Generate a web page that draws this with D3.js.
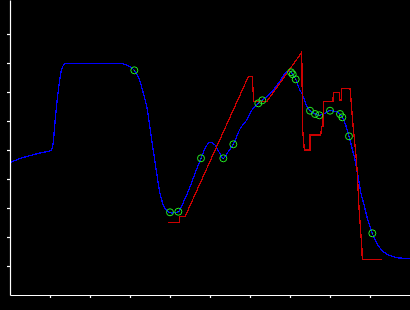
<!DOCTYPE html>
<html>
<head>
<meta charset="utf-8">
<script src="https://cdn.jsdelivr.net/npm/d3@7"></script>
<style>
  body { margin: 0; background: #000; }
  svg { display: block; }
</style>
</head>
<body>
<div id="chart"></div>
<script>
const width = 410;
const height = 310;

// tick positions (no labels in the picture)
const xTicks = [1, 2, 3, 4, 5, 6, 7, 8, 9];
const yTicks = [1, 2, 3, 4, 5, 6, 7, 8, 9];

// blue smooth curve
const blueX = [0, 0.125, 0.25, 0.375, 0.5, 0.7, 0.875, 1.0, 1.05, 1.088, 1.125, 1.163, 1.2, 1.238, 1.275, 1.313, 1.375, 1.425,
  2.675, 2.875, 3.0, 3.108, 3.233, 3.325, 3.418, 3.543, 3.668, 3.75, 3.833, 3.958, 4.05, 4.208, 4.35, 4.5, 4.65, 4.775,
  4.875, 5.0, 5.125, 5.225, 5.333, 5.45, 5.583, 5.75, 5.918, 6.05, 6.208, 6.308, 6.583, 6.75, 6.918, 7.0, 7.068, 7.143,
  7.225, 7.333, 7.418, 7.5, 7.625, 7.733, 7.833, 8.0, 8.168, 8.25, 8.308, 8.4, 8.475, 8.55, 8.625, 8.708, 8.793, 8.833,
  8.925, 9.058, 9.168, 9.333, 9.583, 9.833, 10.0];
const blueY = [4.552, 4.638, 4.707, 4.759, 4.803, 4.879, 4.931, 4.966, 5.034, 5.345, 5.966, 6.517, 6.966, 7.379, 7.690, 7.862, 7.983, 7.993,
  7.993, 7.955, 7.872, 7.748, 7.448, 7.0, 6.493, 5.345, 4.197, 3.507, 3.103, 2.872, 2.828, 2.872, 3.241, 3.734, 4.276, 4.714,
  5.059, 5.266, 5.172, 4.931, 4.714, 4.931, 5.197, 5.724, 6.034, 6.379, 6.610, 6.714, 7.069, 7.379, 7.700, 7.724, 7.610, 7.438,
  7.138, 6.838, 6.517, 6.355, 6.241, 6.197, 6.241, 6.355, 6.321, 6.241, 6.128, 5.828, 5.472, 5.069, 4.655, 4.034, 3.390, 3.207,
  2.690, 2.128, 1.783, 1.493, 1.321, 1.266, 1.266];

// red line
const redX = [3.95, 4.233, 4.233, 4.375, 5.958, 6.058, 6.093, 6.418, 7.293, 7.318, 7.358, 7.5, 7.5, 7.768, 7.793, 7.825, 7.833,
  8.075, 8.083, 8.233, 8.25, 8.283, 8.293, 8.5, 8.525, 8.575, 8.638, 8.688, 8.713, 8.75, 8.793, 8.808, 9.293];
const redY = [2.507, 2.507, 2.7, 2.7, 7.528, 7.528, 6.666, 6.666, 8.369, 5.690, 5.0, 5.0, 5.517, 5.517, 5.803, 5.803, 6.666,
  6.666, 6.976, 6.976, 6.724, 6.724, 7.128, 7.128, 6.724, 5.862, 5.0, 4.138, 3.276, 2.517, 1.724, 1.231, 1.231];

// green markers
const dotX = [3.108, 4.0, 4.208, 4.775, 5.333, 5.583, 6.208, 6.308, 7.025, 7.068, 7.143, 7.5, 7.625, 7.733, 8.0, 8.25, 8.308, 8.475, 9.058];
const dotY = [7.748, 2.852, 2.872, 4.714, 4.714, 5.197, 6.610, 6.714, 7.679, 7.610, 7.438, 6.355, 6.241, 6.197, 6.355, 6.241, 6.128, 5.472, 2.128];

const margin = { left: 10, bottom: 15 };
const plotBottom = height - margin.bottom;

const x = d3.scaleLinear().domain([0, 10]).range([margin.left, width]);
const y = d3.scaleLinear().domain([0, plotBottom / 29]).range([plotBottom, 0]);

const svg = d3.select("#chart")
  .append("svg")
  .attr("width", width)
  .attr("height", height)
  .style("background", "#000");

const line = d3.line()
  .x(d => x(d[0]))
  .y(d => y(d[1]));

svg.append("path")
  .datum(d3.zip(blueX, blueY))
  .attr("d", line.curve(d3.curveMonotoneX))
  .attr("fill", "none")
  .attr("stroke", "#0000ff")
  .attr("stroke-width", 1.3)
  .attr("shape-rendering", "crispEdges");

svg.append("path")
  .datum(d3.zip(redX, redY))
  .attr("d", line.curve(d3.curveLinear))
  .attr("fill", "none")
  .attr("stroke", "#cc0000")
  .attr("stroke-width", 1.3)
  .attr("shape-rendering", "crispEdges");

const dots = svg.append("g");
dots.selectAll("circle.ring")
  .data(d3.zip(dotX, dotY))
  .enter()
  .append("circle")
  .attr("class", "ring")
  .attr("cx", d => x(d[0]))
  .attr("cy", d => y(d[1]))
  .attr("r", 3.5)
  .attr("fill", "none")
  .attr("stroke", "#22ee22")
  .attr("stroke-width", 1);
dots.selectAll("circle.pt")
  .data(d3.zip(dotX, dotY))
  .enter()
  .append("circle")
  .attr("class", "pt")
  .attr("cx", d => x(d[0]))
  .attr("cy", d => y(d[1]))
  .attr("r", 0.6)
  .attr("fill", "#22ee22");

// axes
svg.append("g")
  .attr("transform", "translate(0," + plotBottom + ")")
  .call(d3.axisBottom(x).tickValues(xTicks).tickSize(3).tickSizeOuter(0).tickFormat(""))
  .call(g => g.selectAll("path, line").attr("stroke", "#fff").attr("stroke-width", 1.2));

svg.append("g")
  .attr("transform", "translate(" + margin.left + ",0)")
  .call(d3.axisLeft(y).tickValues(yTicks).tickSize(3).tickSizeOuter(0).tickFormat(""))
  .call(g => g.selectAll("path, line").attr("stroke", "#fff").attr("stroke-width", 1.2));
</script>
</body>
</html>
